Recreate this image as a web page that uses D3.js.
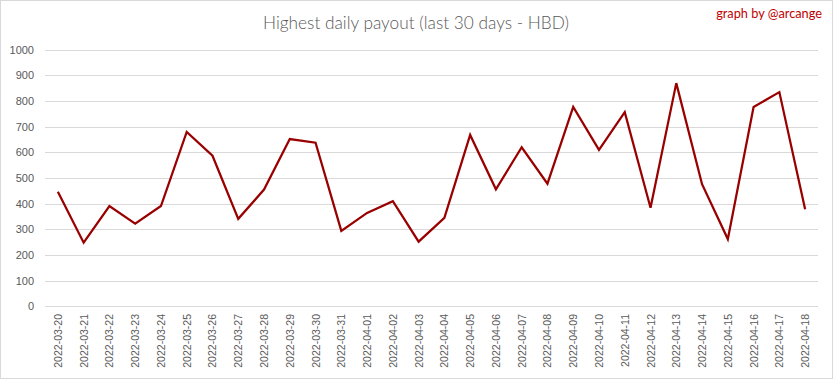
<!DOCTYPE html>
<html><head><meta charset="utf-8">
<script src="https://cdn.jsdelivr.net/npm/d3@7"></script>
<style>body{margin:0;background:#fff}svg{display:block}</style>
</head><body>
<script>
const dates = ["2022-03-20","2022-03-21","2022-03-22","2022-03-23","2022-03-24","2022-03-25","2022-03-26","2022-03-27","2022-03-28","2022-03-29","2022-03-30","2022-03-31","2022-04-01","2022-04-02","2022-04-03","2022-04-04","2022-04-05","2022-04-06","2022-04-07","2022-04-08","2022-04-09","2022-04-10","2022-04-11","2022-04-12","2022-04-13","2022-04-14","2022-04-15","2022-04-16","2022-04-17","2022-04-18"];
const payouts = [447,248,391,322,391,680,587,341,455,652,638,294,364,410,252,345,668,456,620,478,777,610,757,384,870,476,262,777,835,378];
const yTicks = [0,100,200,300,400,500,600,700,800,900,1000];
const titleText = "Highest daily payout (last 30 days - HBD)";
const creditText = "graph by @arcange";

const W = 833, H = 379;
const svg = d3.select("body").append("svg").attr("width", W).attr("height", H);
svg.append("rect").attr("x",0.5).attr("y",0.5).attr("width",W-1).attr("height",H-1)
  .attr("fill","#fff").attr("stroke","#d9d9d9");

const x = d3.scaleBand().domain(dates).range([45, 818]);
const y = d3.scaleLinear().domain([0, 1000]).range([306.3, 49.8]);

// grid
const grid = svg.append("g");
grid.selectAll("line").data(yTicks).join("line")
  .attr("x1", 45).attr("x2", 818)
  .attr("y1", d => Math.round(y(d)) + 0.5).attr("y2", d => Math.round(y(d)) + 0.5)
  .attr("stroke", "#d9d9d9").attr("stroke-width", 1);

// y axis
const yAxis = svg.append("g").attr("transform", "translate(36,0)")
  .call(d3.axisLeft(y).tickValues(yTicks).tickFormat(d3.format("d")).tickSize(0).tickPadding(2));
yAxis.select(".domain").remove();
yAxis.selectAll("text").attr("fill", "#595959").style("font-family", "'Liberation Sans', Arial, sans-serif").style("font-size", "11px");

// x axis
const xAxis = svg.append("g").attr("transform", `translate(0,${Math.round(y(0))})`)
  .call(d3.axisBottom(x).tickSize(0).tickPadding(0));
xAxis.select(".domain").remove();
xAxis.selectAll("text")
  .attr("fill", "#595959")
  .style("font-family", "'Liberation Sans', Arial, sans-serif").style("font-size", "10.5px")
  .attr("text-anchor", "end")
  .attr("dy", null)
  .attr("transform", "translate(4,8) rotate(-90)")
  .attr("x", 0).attr("y", 0);

// line
const line = d3.line().x((d, i) => x(dates[i]) + x.bandwidth() / 2).y(d => y(d));
svg.append("path").datum(payouts).attr("d", line)
  .attr("fill", "none").attr("stroke", "#990000").attr("stroke-width", 2.25)
  .attr("stroke-linejoin", "miter");

// title
const t = svg.append("text").attr("x", 416).attr("y", 29).attr("text-anchor", "middle")
  .attr("fill", "#595959").style("font-family", "Lato, 'Open Sans', sans-serif")
  .style("font-weight", 300).style("font-size", "18.5px").text(titleText);
const tw = t.node().getComputedTextLength();
if (tw > 0) t.style("font-size", (18.5 * 306 / tw).toFixed(2) + "px");

const c = svg.append("text").attr("x", 822).attr("y", 18).attr("text-anchor", "end")
  .attr("fill", "#c00000").style("font-family", "Lato, 'Open Sans', sans-serif")
  .style("font-size", "12px").text(creditText);
const cw = c.node().getComputedTextLength();
if (cw > 0) c.style("font-size", (12 * 106 / cw).toFixed(2) + "px");
</script>
</body></html>
